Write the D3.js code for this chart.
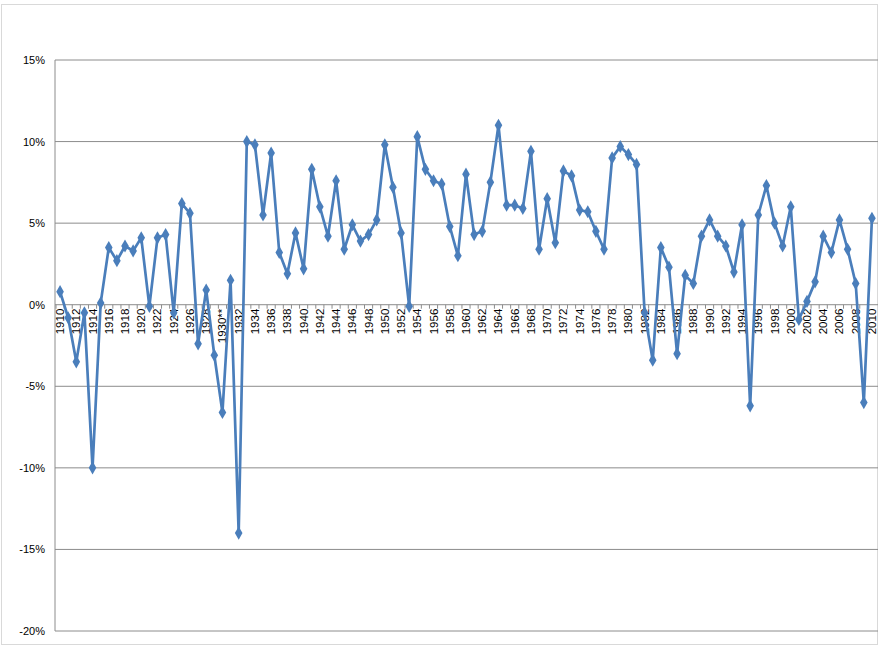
<html>
  <head>
    <script src="https://d3js.org/d3.v7.min.js"></script>
    <style>body{margin:0;background:#fff}</style>
  </head>
  <body>
    <div id="container"></div>
    <script>
      const years = d3.range(1910, 2011)
      const values = [
        0.8, -0.8, -3.5, -0.5, -10.0, 0.1, 3.5, 2.7, 3.6, 3.3,
        4.1, -0.1, 4.1, 4.3, -0.5, 6.2, 5.6, -2.4, 0.9, -3.1,
        -6.6, 1.5, -14.0, 10.0, 9.8, 5.5, 9.3, 3.2, 1.9, 4.4,
        2.2, 8.3, 6.0, 4.2, 7.6, 3.4, 4.9, 3.9, 4.3, 5.2,
        9.8, 7.2, 4.4, -0.1, 10.3, 8.3, 7.6, 7.4, 4.8, 3.0,
        8.0, 4.3, 4.5, 7.5, 11.0, 6.1, 6.1, 5.9, 9.4, 3.4,
        6.5, 3.8, 8.2, 7.9, 5.8, 5.7, 4.5, 3.4, 9.0, 9.7,
        9.2, 8.6, -0.5, -3.4, 3.5, 2.3, -3.0, 1.8, 1.3, 4.2,
        5.2, 4.2, 3.6, 2.0, 4.9, -6.2, 5.5, 7.3, 5.0, 3.6,
        6.0, -0.9, 0.2, 1.4, 4.2, 3.2, 5.2, 3.4, 1.3, -6.0,
        5.3
      ]
      const yTicks = [15, 10, 5, 0, -5, -10, -15, -20]
      const data = years.map((y, i) => ({ year: y, value: values[i] }))

      const svg = d3.select('#container').append('svg')
        .attr('width', 880).attr('height', 646)

      // outer frame
      svg.append('rect')
        .attr('x', 1.5).attr('y', 4.5).attr('width', 876).attr('height', 640)
        .attr('fill', 'none').attr('stroke', '#d9d9d9')

      const x = d3.scalePoint().domain(years).range([56, 876]).padding(0.5)
      const y = d3.scaleLinear().domain([-20, 15]).range([631, 60])

      // gridlines
      svg.selectAll('line.grid')
        .data(yTicks).enter()
        .append('line')
        .attr('x1', 55).attr('x2', 878)
        .attr('y1', d => y(d)).attr('y2', d => y(d))
        .attr('stroke', '#8c8c8c').attr('stroke-width', 1)

      // y axis line
      svg.append('line')
        .attr('x1', 55).attr('x2', 55).attr('y1', y(15)).attr('y2', y(-20))
        .attr('stroke', '#8c8c8c')

      // y labels
      svg.selectAll('text.ylab')
        .data(yTicks).enter()
        .append('text')
        .attr('x', 45).attr('y', d => y(d) + 4)
        .attr('text-anchor', 'end')
        .attr('font-family', 'Liberation Sans, Arial')
        .attr('font-size', 11)
        .text(d => d + '%')

      // x tick marks and labels
      svg.selectAll('line.tick')
        .data(years).enter()
        .append('line')
        .attr('x1', d => x(d) - x.step() / 2).attr('x2', d => x(d) - x.step() / 2)
        .attr('y1', y(0)).attr('y2', y(0) + 4)
        .attr('stroke', '#8c8c8c')

      svg.selectAll('text.xlab')
        .data(years.filter(d => d % 2 === 0)).enter()
        .append('text')
        .attr('transform', d => `translate(${x(d) + 4},${y(0) + 4}) rotate(-90)`)
        .attr('text-anchor', 'end')
        .attr('font-family', 'Liberation Sans, Arial')
        .attr('font-size', 11.5)
        .text(d => d === 1930 ? '1930**' : d)

      // line
      svg.append('path')
        .datum(data)
        .attr('fill', 'none')
        .attr('stroke', '#4a7ebb')
        .attr('stroke-width', 2.7)
        .attr('stroke-linejoin', 'round')
        .attr('d', d3.line().x(d => x(d.year)).y(d => y(d.value)))

      // diamond markers
      svg.selectAll('path.pt')
        .data(data).enter()
        .append('path')
        .attr('d', d3.symbol().type(d3.symbolDiamond).size(50))
        .attr('transform', d => `translate(${x(d.year)},${y(d.value)})`)
        .attr('fill', '#4a7ebb')
    </script>
  </body>
</html>
